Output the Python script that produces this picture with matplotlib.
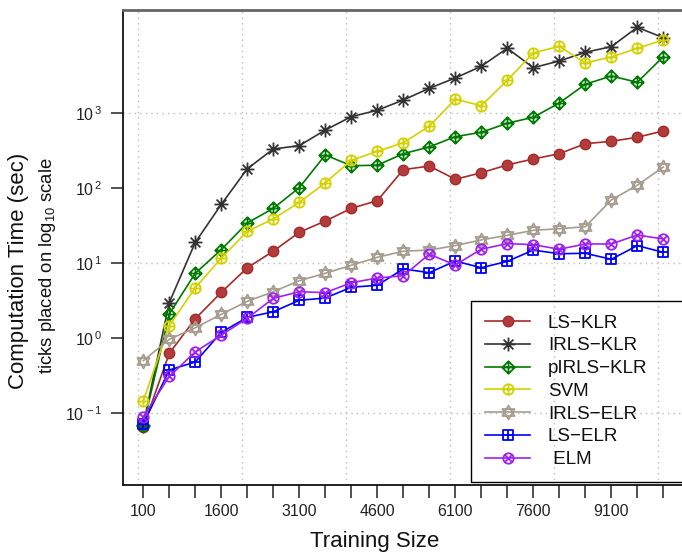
import matplotlib
matplotlib.use("Agg")
import matplotlib.pyplot as plt
from matplotlib.path import Path
from matplotlib.ticker import FixedLocator, NullFormatter, FixedFormatter

plt.rcParams['font.family'] = ['Liberation Sans', 'DejaVu Sans']
plt.rcParams['mathtext.fontset'] = 'custom'
plt.rcParams['mathtext.rm'] = 'Liberation Sans'
plt.rcParams['mathtext.it'] = 'Liberation Sans:italic'
plt.rcParams['mathtext.bf'] = 'Liberation Sans:bold'

# ---------------- data ----------------
train_size = [100, 600, 1100, 1600, 2100, 2600, 3100, 3600, 4100, 4600, 5100,
              5600, 6100, 6600, 7100, 7600, 8100, 8600, 9100, 9600, 10100]

ls_klr = [0.066, 0.63, 1.82, 4.1, 8.7, 14.5, 25.9, 36.6, 54, 68.4, 177,
          198, 132, 161, 205, 246, 289, 393, 423, 479, 581]
irls_klr = [0.07, 3.0, 19, 61, 182, 334, 370, 598, 901, 1097, 1503,
            2155, 2955, 4236, 7360, 4055, 4980, 6500, 7730, 14000, 10180]
pirls_klr = [0.068, 2.11, 7.36, 15.2, 34.5, 54, 102, 278, 200, 203, 289,
             356, 488, 558, 736, 885, 1371, 2437, 3140, 2590, 5690]
svm = [0.146, 1.47, 4.73, 11.7, 26.7, 39, 65, 118, 236, 311, 405,
       671, 1537, 1262, 2754, 6370, 7820, 4688, 5634, 7360, 9490]
irls_elr = [0.503, 0.97, 1.38, 2.09, 3.11, 4.18, 5.86, 7.36, 9.4, 12.0, 14.5,
            15.0, 17.2, 20.5, 23.6, 27.5, 28.9, 30.7, 69.8, 110, 192]
ls_elr = [0.072, 0.378, 0.483, 1.2, 1.9, 2.26, 3.21, 3.44, 4.79, 5.09, 8.4,
          7.5, 10.7, 8.73, 10.6, 15.0, 13.4, 13.6, 11.3, 17.2, 14.0]
elm = [0.09, 0.31, 0.66, 1.1, 1.85, 3.41, 4.18, 4.06, 5.5, 6.37, 6.83,
       13.2, 9.49, 15.4, 18.3, 17.7, 15.4, 18.1, 18.1, 23.8, 21.1]

series_names = ["LS\u2212KLR", "IRLS\u2212KLR", "pIRLS\u2212KLR", "SVM",
                "IRLS\u2212ELR", "LS\u2212ELR", " ELM"]

x_tick_values = [100, 600, 1100, 1600, 2100, 2600, 3100, 3600, 4100, 4600, 5100,
                 5600, 6100, 6600, 7100, 7600, 8100, 8600, 9100, 9600, 10100]
x_tick_labels = ["100", "", "", "1600", "", "", "3100", "", "", "4600", "",
                 "", "6100", "", "", "7600", "", "", "9100", "", ""]
x_grid = [0, 2000, 4000, 6000, 8000, 10000]
y_tick_values = [0.1, 1, 10, 100, 1000]
y_tick_labels = [r"$\mathregular{10^{\,-1}}$", r"$\mathregular{10^{\,0}}$",
                 r"$\mathregular{10^{\,1}}$", r"$\mathregular{10^{\,2}}$",
                 r"$\mathregular{10^{\,3}}$"]
y_grid = [0.1, 10, 1000]

# ---------------- markers ----------------
M, L, C = Path.MOVETO, Path.LINETO, Path.CLOSEPOLY
plus = Path([(-1, 0), (1, 0), (0, -1), (0, 1)], [M, L, M, L])
d = 0.7071
xl = Path([(-d, -d), (d, d), (-d, d), (d, -d)], [M, L, M, L])
circ = Path.unit_circle()
diam = Path([(0, 1), (1, 0), (0, -1), (-1, 0), (0, 1)], [M, L, L, L, C])
sq = Path([(-1, -1), (1, -1), (1, 1), (-1, 1), (-1, -1)], [M, L, L, L, C])
tri_up = Path([(0, 1), (-0.866, -0.5), (0.866, -0.5), (0, 1)], [M, L, L, C])
tri_dn = Path([(0, -1), (-0.866, 0.5), (0.866, 0.5), (0, -1)], [M, L, L, C])
m_ast = Path.make_compound_path(plus, xl)
m_dplus = Path.make_compound_path(diam, plus)
m_cplus = Path.make_compound_path(circ, plus)
m_star = Path.make_compound_path(tri_up, tri_dn)
m_splus = Path.make_compound_path(sq, plus)
m_cx = Path.make_compound_path(circ, xl)

W, H = 682, 554
fig = plt.figure(figsize=(W / 100, H / 100), dpi=100)
ax_left, ax_right, ax_top, ax_bot = 123, 700, 10, 485
ax = fig.add_axes([ax_left / W, (H - ax_bot) / H, (ax_right - ax_left) / W,
                   (ax_bot - ax_top) / H])
ax.set_yscale('log')

lw = 1.2
styles = [
    (ls_klr, dict(color='#A52A2A', marker='o', ms=7.5, mfc='#B23B3B', mec='#A52A2A', mew=1.0)),
    (irls_klr, dict(color='#333333', marker=m_ast, ms=10, mfc='none', mec='#333333', mew=1.3)),
    (pirls_klr, dict(color='#007A00', marker=m_dplus, ms=9, mfc='none', mec='#007A00', mew=1.3)),
    (svm, dict(color='#D2D200', marker=m_cplus, ms=7.5, mfc='none', mec='#D2D200', mew=1.3)),
    (irls_elr, dict(color='#A69D90', marker=m_star, ms=10, mfc='none', mec='#A69D90', mew=1.3)),
    (ls_elr, dict(color='#0000FF', marker=m_splus, ms=7.5, mfc='none', mec='#0000FF', mew=1.3)),
    (elm, dict(color='#A020F0', marker=m_cx, ms=7.5, mfc='none', mec='#A020F0', mew=1.3)),
]
for (vals, st), name in zip(styles, series_names):
    ax.plot(train_size, vals, lw=lw, label=name, clip_on=False, **st)

ax.set_xlim(-290, 10806)
ax.set_ylim(10 ** (-1.956), 10 ** 4.377)

ax.xaxis.remove_overlapping_locs = False
ax.yaxis.remove_overlapping_locs = False
ax.xaxis.set_major_locator(FixedLocator(x_tick_values))
ax.xaxis.set_major_formatter(FixedFormatter(x_tick_labels))
ax.xaxis.set_minor_locator(FixedLocator(x_grid))
ax.yaxis.set_major_locator(FixedLocator(y_tick_values))
ax.yaxis.set_major_formatter(FixedFormatter(y_tick_labels))
ax.yaxis.set_minor_locator(FixedLocator(y_grid))
ax.yaxis.set_minor_formatter(NullFormatter())
ax.xaxis.set_minor_formatter(NullFormatter())

ax.tick_params(axis='both', which='minor', length=0)
ax.tick_params(axis='both', which='major', direction='out', length=9, width=1.2,
               color='#333333', labelcolor='#222222', labelsize=11.5)
ax.tick_params(axis='x', which='major', pad=4.5)
ax.tick_params(axis='y', which='major', pad=6)
ax.grid(True, which='minor', linestyle=(0, (1, 3)), color='#BBBBBB', lw=1.0)
ax.grid(False, which='major')
ax.set_axisbelow(True)

for s in ['left', 'bottom']:
    ax.spines[s].set_color('#111111')
    ax.spines[s].set_linewidth(1.3)
ax.spines['top'].set_color('#666666')
ax.spines['top'].set_linewidth(2.0)
ax.spines['right'].set_visible(False)

ax.set_xlabel("Training Size", fontsize=16, color='#111111')
ax.xaxis.set_label_coords(375 / W, 12 / H, transform=fig.transFigure)
ax.xaxis.label.set_va('center')
ax.set_ylabel("Computation Time (sec)", fontsize=16, color='#111111')
ax.yaxis.set_label_coords(19 / W, (H - 270.5) / H, transform=fig.transFigure)
ax.yaxis.label.set_va('center')
fig.text(48 / W, (H - 265.5) / H, r"ticks placed on log$_{\mathregular{10}}$ scale",
         rotation=90, fontsize=13.3, ha='center', va='center', color='#111111')

leg = ax.legend(loc='upper left', mode='expand',
                bbox_to_anchor=(471 / W, (H - 300.5) / H - 0.5, 260 / W, 0.5),
                bbox_transform=fig.transFigure, borderaxespad=0,
                fontsize=13.5, frameon=True, fancybox=False,
                edgecolor='black', handlelength=2.4, handletextpad=0.95,
                labelspacing=0.3, borderpad=0.75)
frame = leg.get_frame()
frame.set_linewidth(1.0)
frame.set_facecolor('none')
frame.set_edgecolor('black')
frame.set_alpha(1.0)
for t in leg.get_texts():
    t.set_color('#111111')

fig.savefig("out.png", dpi=100)
